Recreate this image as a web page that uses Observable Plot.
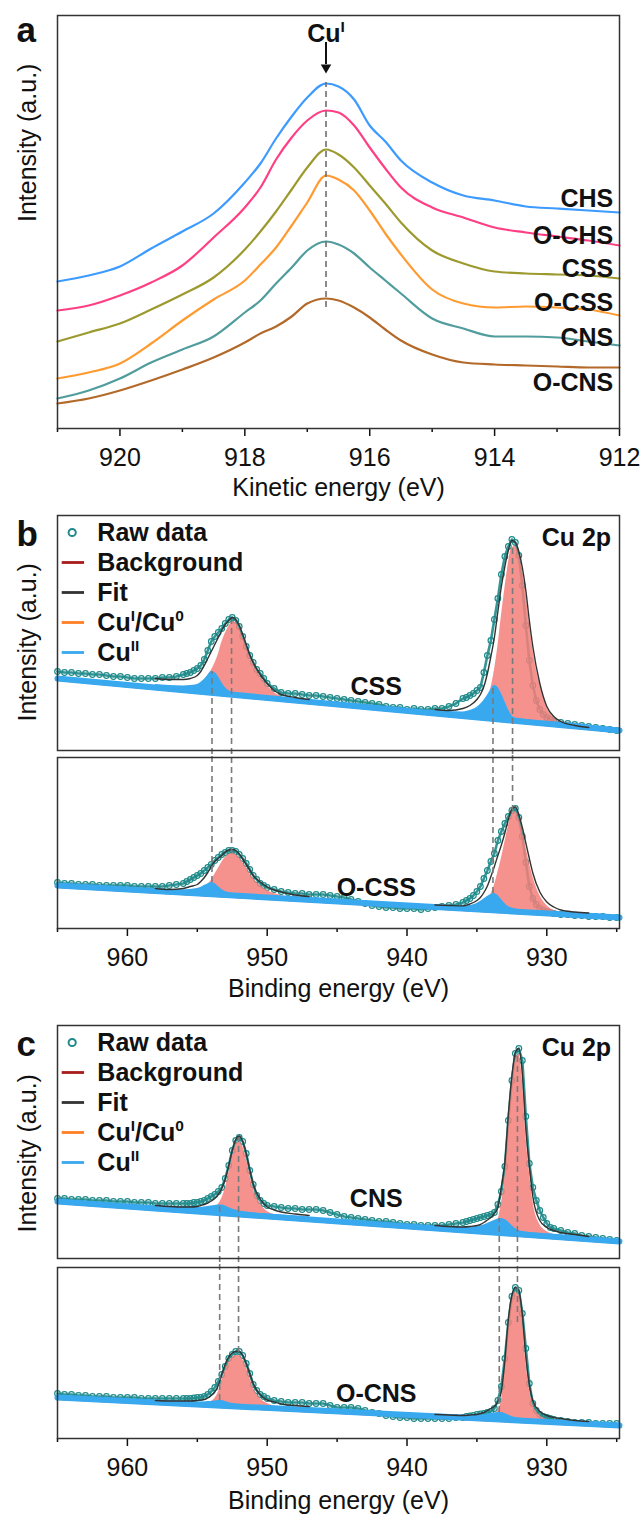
<!DOCTYPE html>
<html>
<head>
<meta charset="utf-8">
<script src="https://cdn.jsdelivr.net/npm/d3@7"></script>
<script src="https://cdn.jsdelivr.net/npm/@observablehq/plot@0.6"></script>
<style>
  html, body { margin: 0; padding: 0; background: #fff; }
  #fig { position: relative; width: 643px; height: 1515px; overflow: hidden; background: #fff; }
  #fig svg { position: absolute; left: 0; overflow: visible; }
</style>
</head>
<body>
<div id="fig"></div>
<script>
// ================= Panel a : Cu LMM Auger (kinetic energy, eV) =================
const augerEnergy = [921, 920.5, 920, 919.5, 919, 918.5, 918, 917.75, 917.5, 917.25, 917, 916.7, 916.5, 916.25, 916, 915.75, 915.5, 915, 914.5, 914, 913.5, 913, 912.5, 912];
const augerCHS  = [147,153,162,180,197,215,246,265,290,312,331,345,342,329,303,287,268,246,233,228,222,220,218,216];
const augerOCHS = [118,123,133,146,163,191,221,241,269,291,308,318,316,303,281,260,241,221,211,201,196,192,188,183];
const augerCSS  = [87,96,105,119,134,151,179,197,217,239,261,279,274,261,243,225,206,178,165,157,155,154,153,150];
const augerOCSS = [50,56,65,85,108,129,148,164,181,203,226,253,249,238,218,195,174,139,125,121,122,121,119,113];
const augerCNS  = [30,38,50,66,79,92,116,128,145,161,178,187,184,175,161,148,135,110,100,92,92,91,87,83];
const augerOCNS = [25,30,38,48,59,71,86,95,102,112,125,130,128,121,111,99,88,74,66,64,63,62,61,61];
const augerNames = ["CHS", "O-CHS", "CSS", "O-CSS", "CNS", "O-CNS"];
const augerLabelLevel = [230, 193, 160, 126, 91, 46];
const augerMajorTicks = [920, 918, 916, 914, 912];
const augerMinorTicks = [921, 919, 917, 915, 913];
const cuIEnergy = 916.7;

// ================= Panels b, c : Cu 2p XPS (binding energy, eV) =================
const xpsEnergy = [
  965, 964.5, 964, 963.5, 963, 962.5, 962, 961.5, 961, 960.5, 960, 959.5, 959, 958.5, 958, 957.5, 957, 956.5,
  956, 955.75, 955.5, 955.25, 955, 954.75, 954.5, 954.25, 954, 953.75, 953.5, 953.25, 953, 952.75, 952.5, 952.25, 952, 951.75, 951.5, 951.25, 951, 950.75, 950.5, 950.25, 950,
  949.5, 949, 948.5, 948, 947.5, 947, 946.5, 946, 945.5, 945, 944.5, 944, 943.5, 943, 942.5, 942, 941.5, 941, 940.5, 940, 939.5, 939, 938.5, 938, 937.5, 937, 936.5,
  936, 935.75, 935.5, 935.25, 935, 934.75, 934.5, 934.25, 934, 933.75, 933.5, 933.25, 933, 932.75, 932.5, 932.25, 932, 931.75, 931.5, 931.25, 931, 930.75, 930.5, 930.25, 930, 929.75, 929.5,
  929, 928.5, 928, 927.5, 927, 926.5, 926, 925.5, 925];

const cssRaw = [
  79,78,78,77,77,76,76,75,74,74,73,72,72,72,72,73,73,74,
  76,77,78,80,82,85,91,100,109,114,118,122,127,131,133,130,124,114,104,95,88,81,77,72,67,
  62,58,57,57,56,55,55,54,53,52,51,50,49,48,47,46,44,43,43,41,42,41,41,42,42,44,47,
  52,53,55,57,60,63,78,95,110,131,152,176,194,204,211,208,195,165,125,90,65,50,41,36,33,31,29,
  28,27,26,25,24,23,22,21,20];
const ocssRaw = [
  46,45,45,44,44,44,43,43,43,43,43,42,42,42,42,42,43,44,
  45,47,49,51,53,55,58,61,64,68,71,74,76,78,78,77,74,70,65,59,53,49,45,43,41,
  39,37,36,35,35,34,34,34,33,32,31,29,27,25,23,22,21,21,20,20,20,19,20,21,22,23,24,
  26,28,30,33,37,42,50,58,67,75,88,97,105,112,118,120,111,92,66,42,30,24,20,18,17,16,15,
  14,14,13,13,12,12,12,11,11];
const cnsRaw = [
  60,60,59,59,59,58,58,58,57,57,57,56,56,56,55,55,55,55,
  55,55,55,56,56,57,58,60,62,64,67,71,80,93,108,118,121,117,105,88,74,63,58,55,53,
  52,51,50,50,49,49,49,48,46,44,42,41,40,39,38,37,37,36,35,34,34,33,33,33,33,34,35,
  36,37,38,39,40,41,42,43,44,46,54,67,92,138,178,205,210,198,142,95,71,58,48,41,35,31,30,
  28,26,25,23,22,21,20,19,18];
const ocnsRaw = [
  45,44,44,43,43,42,42,42,41,41,41,41,40,40,40,40,40,40,
  40,40,40,40.5,41,41,42,44,47,51,57,64,72,80,84,87,87,83,75,65,54,48,44,42,40,
  38,37,36,36,36,35,35,35,33,31,31,31,30,28,26,25,23,22,21,21,20,20,20,20,20,20,21,
  21,22,22.5,23,24,24.5,25,26,27,30,38,52,80,116,142,151,148,125,90,55,35,28,24,22,21,20,19,
  18,17,16,16,16,15,15,15,15];

const compEnergy = [
  958, 957, 956, 955.5, 955, 954.75, 954.5, 954.25, 954, 953.75, 953.5, 953.25, 953, 952.75, 952.5, 952.25, 952, 951.75, 951.5, 951.25, 951, 950.5, 950, 949.5, 949, 948, 947,
  938, 937, 936, 935.5, 935, 934.75, 934.5, 934.25, 934, 933.75, 933.5, 933.25, 933, 932.75, 932.5, 932.25, 932, 931.75, 931.5, 931.25, 931, 930.5, 930, 929.5, 929, 928, 927];

const cssFit = [72,71,71,72,75,79,85,92,99,106,113,120,126,130,133,131,125,116,106,96,88,76,67,60,56,53,51,
  41,40,42,45,51,56,64,77,94,113,139,164,184,200,210,208,199,183,160,130,104,67,44,34,29,25,23];
const cssCuI = [61,60,60,61,63,66,70,75,80,87,96,108,117,124,129,128,122,113,104,94,86,74,65,58,54,50,48,
  35,34,33,33,34,35,38,47,62,80,104,134,162,187,203,204,196,181,158,128,102,66,43,33,27,23,21];
const cssCuII = [66,65,64.5,65,66,68,71,75,79,78,74,68,63,60,58,57,56,55.5,55,54.5,54,53.5,52.5,52,51,50,49,
  40,39,38.5,40,43,46,50,55,61,65,63,57,49,41,35,32.5,32,31.5,31,30.5,30,29.5,29,28.5,28,27,25.5];

const ocssFit = [40,39,40,42,44,47,51,56,62,67,70,73,76.5,78.5,79,78,74.5,69.5,64,58.5,53,46.5,41.5,38.5,36.5,33.5,32,
  23.5,23,22.6,24.5,28,31,36,42.5,52,62,73,83.5,95.5,109,119.5,121.5,114,101,85.5,70,55.5,36.5,26.5,21.5,18.5,16.5,15.5];
const ocssCuI = [35.5,35,35,36,37,39,41,44,48,54,60,66,71,74,75,74,71,66,61,55,50,43,38,35,33,30,28.5,
  19.5,19,18.5,19,20,21,23,27,34,43,56,70,86,102,114,117,110,97,82,66,52,33,23,18,15.5,13,12];
const ocssCuII = [39.5,38.5,38.5,39,40,41,43,44.5,46,45,42,39,37,36,35,34.5,34,34,33.5,33.5,33,33,32.5,32,32,31,30.5,
  23.5,22.7,22,23,25,27,29.5,32,34,35,33,29,25,22,20.5,19.5,19,18.5,18,18,17.5,17,16.5,16,15.5,15,14];

const cnsFit = [53,52,51.5,51.5,52,53,54,55.5,57.5,60,64,70,79.5,93,108,119,122.5,117,105,89,74.5,59.5,51.5,48.5,46.5,44.5,43,
  33,32,31.5,32,33,34,36,38.5,41,45,51,72,96,144,182,206,210,185,130,93,62,38,31,28,26,24,22];
const cnsCuI = [48,47,46,46,46,46.5,47,48,49,51,54,60,70,85,101,113,117,112,100,84,70,55,47,44,42,40,38.5,
  28,27,26,26,26,26.5,27,28,29,31,38,55,80,130,172,198,204,180,125,88,58,34,27,24,22,20,18.5];
const cnsCuII = [53,52,51.5,51,51,51,51.5,52,52.5,53,53.5,53.5,52.5,51,49.5,48.5,47.5,47,46.5,46,45.5,45,44.5,44,43.5,42.5,41.5,
  33,32,31.5,31.5,32,32.5,33.5,35,36.5,38,39.5,40,39,36.5,33,30,28,27,26.5,26,25.5,25,24.5,24,23.5,22.5,21.5];

const ocnsFit = [38,37.5,37.5,37.5,38,38.5,39,40.5,43,46.5,53,64,74.5,81.5,85.5,87,87,83,75,65,55,43.5,38.5,36.5,34.5,33,32,
  24,23.5,23,23.5,24,25,26,28,30,32,37,47,78,119,143,151,148,124,82,54,38,27,23,21,20,18,17];
const ocnsCuI = [34,33.5,33,33,33,33.5,34,35,37,40,46,57,68,76,81,83,83,79,71,61,51,40,35,32.5,31,29,28,
  20,19.5,19,19,19,19.5,20,21,22,24,28,38,70,112,138,146,144,120,78,50,34,23,19,17,16,14.5,13.5];
const ocnsCuII = [38,37.5,37,36.5,36.5,36.5,36.5,37,37,37.5,38,38,37,36,35,34.5,34,33.5,33.5,33,33,32.5,32,32,31.5,31,30.5,
  24,23.5,23,23,23,23.5,24,24.5,25,25.5,26,26,25,23.5,22,21,20.5,20,19.5,19.5,19,18.5,18.5,18,17.5,17,16.5];

const bgEnergy = [965, 924.8];
const cssBg  = [70, 18];
const ocssBg = [41, 9];
const cnsBg  = [55, 15];
const ocnsBg = [39, 11];

// component peak energies: Cu(II) 2p1/2, Cu(I) 2p1/2, Cu(II) 2p3/2, Cu(I) 2p3/2
const cssPeakEnergy = [953.95, 952.55, 933.85, 932.45];
const cnsPeakEnergy = [953.4, 952.05, 933.4, 932.1];
const cssPeakTop  = [79, 129, 65, 204];
const ocssPeakTop = [46, 75, 35, 117];
const cnsPeakTop  = [54, 121, 40, 206];
const ocnsPeakTop = [38, 86, 26, 116];

const xpsMajorTicks = [960, 950, 940, 930];
const xpsMinorTicks = [965, 955, 945, 935, 925];
const legendLabels = ["Raw data", "Background", "Fit", "Cu^{I}/Cu^{0}", "Cu^{II}"];

// ================= drawing =================
const FONT = "'Liberation Sans', Arial, Helvetica, sans-serif";
const baseStyle = {fontFamily: FONT, overflow: "visible", background: "transparent", color: "#111"};
const TEAL = "#1f8a8a", SALMON = "#f47f7a", BLUE = "#39a9ef", BGRED = "#a81c1c", ORANGE = "#ff7f24";
const augerColors = ["#3d9bff", "#ff3f84", "#9c9a2e", "#ff9a30", "#519c9c", "#b3692a"];
const fig = document.getElementById("fig");

function place(svg, top) {
  svg.style.position = "absolute";
  svg.style.top = top + "px";
  svg.style.left = "0px";
  fig.appendChild(svg);
  superscripts(svg);
}

function superscripts(svg) {
  svg.querySelectorAll("text").forEach(el => {
    const t = el.textContent;
    if (!t.includes("^{")) return;
    const fs = parseFloat(getComputedStyle(el).fontSize) || 25;
    while (el.firstChild) el.removeChild(el.firstChild);
    const parts = t.split(/(\^\{[^}]*\})/).filter(Boolean);
    let up = false;
    for (const p of parts) {
      const ts = document.createElementNS("http://www.w3.org/2000/svg", "tspan");
      const m = p.match(/^\^\{([^}]*)\}$/);
      if (m) {
        ts.textContent = m[1];
        ts.setAttribute("font-size", (fs * 0.62).toFixed(1));
        if (!up) ts.setAttribute("dy", (-fs * 0.4).toFixed(1));
        up = true;
      } else {
        ts.textContent = p;
        if (up) ts.setAttribute("dy", (fs * 0.4).toFixed(1));
        up = false;
      }
      el.appendChild(ts);
    }
  });
}

// ---- panel a ----
const augerSeries = [augerCHS, augerOCHS, augerCSS, augerOCSS, augerCNS, augerOCNS];
const panelA = Plot.plot({
  width: 643, height: 500, marginTop: 15, marginBottom: 72, marginLeft: 57, marginRight: 24,
  style: baseStyle,
  x: {domain: [921, 912], label: null},
  y: {domain: [0, 413], axis: null},
  marks: [
    ...augerSeries.map((vals, k) => Plot.line(augerEnergy.map((E, i) => ({E, v: vals[i]})),
      {x: "E", y: "v", stroke: augerColors[k], strokeWidth: 2.2, curve: "monotone-x"})),
    Plot.ruleX([{E: cuIEnergy, y1: 121, y2: 346}], {x: "E", y1: "y1", y2: "y2", stroke: "#6e6e6e", strokeWidth: 1.6, strokeDasharray: "6,4"}),
    Plot.ruleX([{E: cuIEnergy, y1: 364, y2: 386}], {x: "E", y1: "y1", y2: "y2", stroke: "#111", strokeWidth: 2}),
    Plot.dot([{E: cuIEnergy, v: 361}], {x: "E", y: "v", symbol: "triangle2", rotate: 180, r: 5, fill: "#111", stroke: "none"}),
    Plot.text([{E: cuIEnergy, v: 395, t: "Cu^{I}"}], {x: "E", y: "v", text: "t", fontSize: 25, fontWeight: "bold", fill: "#111"}),
    Plot.text(augerNames.map((t, k) => ({E: 912.1, v: augerLabelLevel[k], t})),
      {x: "E", y: "v", text: "t", textAnchor: "end", fontSize: 25, fontWeight: "bold", fill: "#111"}),
    Plot.axisX({ticks: augerMajorTicks, tickSize: 8, tickPadding: 12, fontSize: 25, tickFormat: d => String(d), label: null, strokeWidth: 1.5}),
    Plot.axisX({ticks: augerMinorTicks, tickSize: 4, tickFormat: () => "", label: null, strokeWidth: 1.5}),
    Plot.text(["Kinetic energy (eV)"], {frameAnchor: "bottom", lineAnchor: "middle", dy: 59, text: d => d, fontSize: 25, fill: "#111"}),
    Plot.text(["Intensity (a.u.)"], {frameAnchor: "left", lineAnchor: "middle", dx: -30, rotate: -90, text: d => d, fontSize: 25, fill: "#111"}),
    Plot.text(["a"], {frameAnchor: "top-left", dx: -41, dy: 26, textAnchor: "start", lineAnchor: "bottom", text: d => d, fontSize: 35, fontWeight: "bold", fill: "#111"}),
    Plot.frame({stroke: "#333", strokeWidth: 1.5})
  ]
});
place(panelA, 0);

// ---- XPS sub-plot ----
function xpsPanel(o) {
  const yMax = o.frameH;
  const bgAt = E => o.bg[0] + (o.bg[1] - o.bg[0]) * (E - bgEnergy[0]) / (bgEnergy[1] - bgEnergy[0]);
  const raw = xpsEnergy.map((E, i) => ({E, v: o.raw[i]}));
  const comp = compEnergy.map((E, i) => ({E, fit: o.fit[i], cu1: o.cu1[i], cu2: o.cu2[i], base: bgAt(E), band: E > 945 ? "2p1/2" : "2p3/2"}));
  const bgLine = bgEnergy.map((E, i) => ({E, v: o.bg[i]}));
  const peaks = o.peakE.map((E, i) => ({E, lo: o.isTop ? -4 : o.peakTop[i], hi: o.isTop ? o.peakTop[i] : yMax + 5}));
  const marks = [
    Plot.line(raw, {x: "E", y: "v", stroke: TEAL, strokeWidth: 2.6, strokeOpacity: 0.9}),
    Plot.dot(raw, {x: "E", y: "v", r: 2.8, fill: "none", stroke: TEAL, strokeWidth: 1.2}),
    Plot.areaY(comp, {x: "E", y1: "base", y2: "cu1", z: "band", fill: SALMON, fillOpacity: 0.85, curve: "monotone-x"}),
    Plot.line(bgLine, {x: "E", y: "v", stroke: BGRED, strokeWidth: 1}),
    Plot.line(bgLine, {x: "E", y: "v", stroke: BLUE, strokeWidth: 6, dy: -2}),
    Plot.areaY(comp, {x: "E", y1: "base", y2: "cu2", z: "band", fill: BLUE, curve: "monotone-x"}),
    Plot.line(comp, {x: "E", y: "fit", z: "band", stroke: "#333", strokeWidth: 1.4, curve: "monotone-x"}),
    Plot.ruleX(peaks, {x: "E", y1: "lo", y2: "hi", stroke: "#7a7a7a", strokeWidth: 1.6, strokeDasharray: "6,4"}),
    Plot.text([{E: 942.2, v: o.nameLevel, t: o.name}], {x: "E", y: "v", text: "t", fontSize: 25, fontWeight: "bold", fill: "#111"}),
  ];
  if (o.isTop) {
    const offs = [17, 47, 77, 107, 137];
    const lv = offs.map(d => yMax - d);
    marks.push(
      Plot.dot([{E: 963.95, v: lv[0]}], {x: "E", y: "v", r: 3.6, fill: "none", stroke: TEAL, strokeWidth: 2}),
      ...[BGRED, "#333", ORANGE, BLUE].map((c, k) =>
        Plot.link([{a: 964.7, b: 963.1, v: lv[k + 1]}], {x1: "a", x2: "b", y1: "v", y2: "v", stroke: c, strokeWidth: 2.8})),
      Plot.text(legendLabels.map((t, k) => ({E: 962.15, v: lv[k], t})),
        {x: "E", y: "v", text: "t", textAnchor: "start", fontSize: 25, fontWeight: "bold", fill: "#111"}),
      Plot.text([{E: 925.4, v: yMax - 22, t: "Cu 2p"}], {x: "E", y: "v", text: "t", textAnchor: "end", fontSize: 25, fontWeight: "bold", fill: "#111"}),
      Plot.text([o.letter], {frameAnchor: "top-left", dx: -41, dy: 30, textAnchor: "start", lineAnchor: "bottom", text: d => d, fontSize: 35, fontWeight: "bold", fill: "#111"}),
      Plot.text(["Intensity (a.u.)"], {frameAnchor: "bottom-left", lineAnchor: "middle", dx: -30, dy: o.ylabelDy, rotate: -90, text: d => d, fontSize: 25, fill: "#111"})
    );
  } else {
    marks.push(
      Plot.axisX({ticks: xpsMajorTicks, tickSize: 8, tickPadding: 12, fontSize: 25, tickFormat: d => String(d), label: null, strokeWidth: 1.5}),
      Plot.axisX({ticks: xpsMinorTicks, tickSize: 4, tickFormat: () => "", label: null, strokeWidth: 1.5}),
      Plot.text(["Binding energy (eV)"], {frameAnchor: "bottom", lineAnchor: "middle", dy: o.xlabelDy, text: d => d, fontSize: 25, fill: "#111"})
    );
  }
  marks.push(Plot.frame({stroke: "#333", strokeWidth: 1.5}));
  return Plot.plot({
    width: 643, height: o.height, marginTop: o.mTop, marginBottom: o.mBottom, marginLeft: 57, marginRight: 24,
    style: baseStyle,
    x: o.isTop ? {domain: [965, 924.8], axis: null, label: null} : {domain: [965, 924.8], label: null},
    y: {domain: [0, yMax], axis: null},
    marks
  });
}

place(xpsPanel({isTop: true, letter: "b", height: 252, mTop: 15, mBottom: 2, frameH: 235,
  raw: cssRaw, fit: cssFit, cu1: cssCuI, cu2: cssCuII, bg: cssBg,
  peakE: cssPeakEnergy, peakTop: cssPeakTop, name: "CSS", nameLevel: 64, ylabelDy: -29}), 500);
place(xpsPanel({isTop: false, height: 248, mTop: 5, mBottom: 72, frameH: 171,
  raw: ocssRaw, fit: ocssFit, cu1: ocssCuI, cu2: ocssCuII, bg: ocssBg,
  peakE: cssPeakEnergy, peakTop: ocssPeakTop, name: "O-CSS", nameLevel: 41, xlabelDy: 60}), 752);
place(xpsPanel({isTop: true, letter: "c", height: 260, mTop: 25, mBottom: 2, frameH: 233,
  raw: cnsRaw, fit: cnsFit, cu1: cnsCuI, cu2: cnsCuII, bg: cnsBg,
  peakE: cnsPeakEnergy, peakTop: cnsPeakTop, name: "CNS", nameLevel: 60, ylabelDy: -26}), 1000);
place(xpsPanel({isTop: false, height: 253, mTop: 5, mBottom: 77, frameH: 171,
  raw: ocnsRaw, fit: ocnsFit, cu1: ocnsCuI, cu2: ocnsCuII, bg: ocnsBg,
  peakE: cnsPeakEnergy, peakTop: ocnsPeakTop, name: "O-CNS", nameLevel: 45, xlabelDy: 62}), 1262);
</script>
</body>
</html>
